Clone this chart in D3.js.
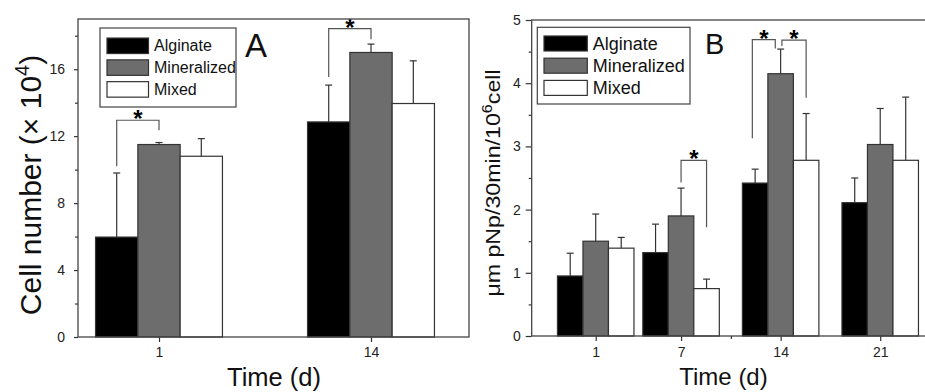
<!DOCTYPE html>
<html>
<head>
<meta charset="utf-8">
<script src="https://cdn.jsdelivr.net/npm/d3@7"></script>
<style>
	body { margin: 0; background: #fff; }
	svg { display: block; font-family: 'Liberation Sans', Arial, sans-serif; }
	.axis path.domain { display: none; }
	.axis line { stroke: #333; stroke-width: 1.2; }
	.axis text { fill: #222; font-size: 14px; }
</style>
</head>
<body>
<script>
(function(d3) {
	'use strict';

	/** data, panel A (cell number x 10^4) */
	var seriesNames = ['Alginate', 'Mineralized', 'Mixed'];
	var daysA = [1, 14];
	var alginateA = [5.97, 12.85];
	var alginateErrA = [3.83, 2.2];
	var mineralizedA = [11.5, 17.0];
	var mineralizedErrA = [0.12, 0.5];
	var mixedA = [10.8, 13.95];
	var mixedErrA = [1.05, 2.55];
	var yTicksA = [0, 4, 8, 12, 16];
	var yMinorA = [2, 6, 10, 14, 18];
	// significance brackets: day, series from/to, left foot, top, right foot
	var bracketsA = [
		{ day: 1, from: 0, to: 1, y1: 10.2, top: 12.95, y2: 12.36 },
		{ day: 14, from: 0, to: 1, y1: 15.54, top: 18.43, y2: 17.79 }
	];

	/** data, panel B (um pNp/30min/10^6 cell) */
	var daysB = [1, 7, 14, 21];
	var alginateB = [0.95, 1.32, 2.42, 2.11];
	var alginateErrB = [0.36, 0.45, 0.22, 0.39];
	var mineralizedB = [1.50, 1.90, 4.15, 3.03];
	var mineralizedErrB = [0.43, 0.44, 0.39, 0.57];
	var mixedB = [1.39, 0.75, 2.78, 2.78];
	var mixedErrB = [0.17, 0.15, 0.74, 1.00];
	var yTicksB = [0, 1, 2, 3, 4, 5];
	var yMinorB = [0.5, 1.5, 2.5, 3.5, 4.5];
	var xMinorB = [10.5];
	var bracketsB = [
		{ day: 7, from: 1, to: 2, y1: 2.43, top: 2.78, y2: 1.72 },
		{ day: 14, from: -0.11, to: 0.79, y1: 3.13, top: 4.69, y2: 4.55 },
		{ day: 14, from: 1.05, to: 2.0, y1: 4.59, top: 4.68, y2: 3.77 }
	];

	var fills = ['#000', '#6d6d6d', '#fff'];
	var lineColor = '#333';

	var svg = d3.select('body').append('svg').attr('width', 925).attr('height', 392);

	var drawBars = function(g, x, y, days, values, errors, barWidth) {
		values.forEach(function(series, i) {
			var rows = days.map(function(day, j) {
				return { cx: x(day) + (i - 1) * barWidth, v: series[j], e: errors[i][j] };
			});
			g.selectAll('rect.s' + i).data(rows).enter().append('rect')
				.attr('class', 's' + i)
				.attr('x', function(r) { return r.cx - barWidth / 2; })
				.attr('y', function(r) { return y(r.v); })
				.attr('width', barWidth)
				.attr('height', function(r) { return y(0) - y(r.v); })
				.attr('fill', fills[i]).attr('stroke', lineColor).attr('stroke-width', 1.2);
			var err = g.selectAll('g.e' + i).data(rows).enter().append('g').attr('class', 'e' + i)
				.attr('stroke', lineColor).attr('stroke-width', 1.2);
			err.append('line')
				.attr('x1', function(r) { return r.cx; }).attr('x2', function(r) { return r.cx; })
				.attr('y1', function(r) { return y(r.v); }).attr('y2', function(r) { return y(r.v + r.e); });
			err.append('line')
				.attr('x1', function(r) { return r.cx - 3.5; }).attr('x2', function(r) { return r.cx + 3.5; })
				.attr('y1', function(r) { return y(r.v + r.e); }).attr('y2', function(r) { return y(r.v + r.e); });
		});
	};

	var drawBrackets = function(g, x, y, brackets, barWidth) {
		var bx = function(b, pos) { return x(b.day) + (pos - 1) * barWidth; };
		g.selectAll('path.bracket').data(brackets).enter().append('path')
			.attr('class', 'bracket')
			.attr('fill', 'none').attr('stroke', '#555').attr('stroke-width', 1.2)
			.attr('d', function(b) {
				return 'M' + bx(b, b.from) + ',' + y(b.y1) + 'V' + y(b.top) +
					'H' + bx(b, b.to) + 'V' + y(b.y2);
			});
		g.selectAll('text.star').data(brackets).enter().append('text')
			.attr('class', 'star')
			.attr('x', function(b) { return (bx(b, b.from) + bx(b, b.to)) / 2; })
			.attr('y', function(b) { return y(b.top) + 7; })
			.attr('text-anchor', 'middle').attr('font-size', 24).attr('font-weight', 'bold')
			.text('*');
	};

	var drawLegend = function(g, box, fontSize) {
		g.append('rect').attr('x', box.x).attr('y', box.y).attr('width', box.w).attr('height', box.h)
			.attr('fill', '#fff').attr('stroke', '#444').attr('stroke-width', 1.2);
		var rows = g.selectAll('g.item').data(seriesNames).enter().append('g').attr('class', 'item')
			.attr('transform', function(d, i) { return 'translate(' + box.sx + ',' + (box.row0 + i * box.step) + ')'; });
		rows.append('rect').attr('x', 0).attr('y', -box.sh / 2).attr('width', box.sw).attr('height', box.sh)
			.attr('fill', function(d, i) { return fills[i]; })
			.attr('stroke', lineColor).attr('stroke-width', 1.2);
		rows.append('text').attr('x', box.sw + box.gap).attr('y', fontSize * 0.35)
			.attr('font-size', fontSize).attr('fill', '#111')
			.text(function(d) { return d; });
	};

	/** panel A */
	var frameA = { left: 78, right: 469, top: 19, bottom: 337 };
	var xA = d3.scalePoint().domain(daysA).range([159, 371]);
	var yA = d3.scaleLinear().domain([0, 19]).range([frameA.bottom, frameA.top]);
	var gA = svg.append('g');

	gA.append('g').attr('class', 'axis').attr('transform', 'translate(' + frameA.left + ',0)')
		.call(d3.axisLeft(yA).tickValues(yTicksA).tickSize(4).tickPadding(9).tickSizeOuter(0));
	gA.append('g').attr('class', 'axis').attr('transform', 'translate(' + frameA.left + ',0)')
		.call(d3.axisLeft(yA).tickValues(yMinorA).tickSize(3).tickFormat('').tickSizeOuter(0));
	gA.append('g').attr('class', 'axis').attr('transform', 'translate(0,' + frameA.bottom + ')')
		.call(d3.axisBottom(xA).tickSize(5).tickPadding(5).tickSizeOuter(0));

	drawBars(gA, xA, yA, daysA, [alginateA, mineralizedA, mixedA],
		[alginateErrA, mineralizedErrA, mixedErrA], 42.3);
	drawBrackets(gA, xA, yA, bracketsA, 42.3);

	gA.append('rect').attr('x', frameA.left).attr('y', frameA.top)
		.attr('width', frameA.right - frameA.left).attr('height', frameA.bottom - frameA.top)
		.attr('fill', 'none').attr('stroke', '#444').attr('stroke-width', 1.3);

	drawLegend(gA, { x: 100, y: 28, w: 136, h: 79, sx: 107, row0: 45.8, step: 21.8, sw: 41.5, sh: 15.5, gap: 5.5 }, 16);
	gA.append('text').attr('x', 245).attr('y', 57).attr('font-size', 33).attr('fill', '#111').text('A');

	var labelA = gA.append('text').attr('transform', 'translate(41,185) rotate(-90)')
		.attr('text-anchor', 'middle').attr('font-size', 30).attr('fill', '#111');
	labelA.append('tspan').text('Cell number (× 10');
	labelA.append('tspan').attr('font-size', 20).attr('dy', -12).text('4');
	labelA.append('tspan').attr('dy', 12).text(')');

	gA.append('text').attr('x', 274).attr('y', 386).attr('text-anchor', 'middle')
		.attr('font-size', 25.5).attr('fill', '#111').text('Time (d)');

	/** panel B */
	var frameB = { left: 531.7, right: 930, top: 20, bottom: 336 };
	var xB = d3.scaleLinear().domain([-3.5, 24.5]).range([frameB.left, frameB.right]);
	var yB = d3.scaleLinear().domain([0, 5]).range([frameB.bottom, frameB.top]);
	var gB = svg.append('g');

	gB.append('g').attr('class', 'axis').attr('transform', 'translate(' + frameB.left + ',0)')
		.call(d3.axisLeft(yB).tickValues(yTicksB).tickFormat(d3.format('d')).tickSize(6).tickPadding(5).tickSizeOuter(0));
	gB.append('g').attr('class', 'axis').attr('transform', 'translate(' + frameB.left + ',0)')
		.call(d3.axisLeft(yB).tickValues(yMinorB).tickSize(3).tickFormat('').tickSizeOuter(0));
	gB.append('g').attr('class', 'axis').attr('transform', 'translate(0,' + frameB.bottom + ')')
		.call(d3.axisBottom(xB).tickValues(daysB).tickFormat(d3.format('d')).tickSize(5).tickPadding(6).tickSizeOuter(0));
	gB.append('g').attr('class', 'axis').attr('transform', 'translate(0,' + frameB.bottom + ')')
		.call(d3.axisBottom(xB).tickValues(xMinorB).tickSize(3).tickFormat('').tickSizeOuter(0));

	drawBars(gB, xB, yB, daysB, [alginateB, mineralizedB, mixedB],
		[alginateErrB, mineralizedErrB, mixedErrB], 25.5);
	drawBrackets(gB, xB, yB, bracketsB, 25.5);

	gB.append('rect').attr('x', frameB.left).attr('y', frameB.top)
		.attr('width', frameB.right - frameB.left).attr('height', frameB.bottom - frameB.top)
		.attr('fill', 'none').attr('stroke', '#444').attr('stroke-width', 1.3);

	drawLegend(gB, { x: 537.3, y: 27.3, w: 152.7, h: 76.7, sx: 544, row0: 43.5, step: 22.2, sw: 43.3, sh: 15, gap: 5.4 }, 18);
	gB.append('text').attr('x', 705).attr('y', 54).attr('font-size', 29).attr('fill', '#111').text('B');

	var labelB = gB.append('text').attr('transform', 'translate(500,183) rotate(-90) scale(1.16,1)')
		.attr('text-anchor', 'middle').attr('font-size', 20).attr('fill', '#111');
	labelB.append('tspan').text('μm pNp/30min/10');
	labelB.append('tspan').attr('font-size', 14).attr('dy', -8).text('6');
	labelB.append('tspan').attr('dy', 8).text('cell');

	gB.append('text').attr('x', 723.5).attr('y', 385).attr('text-anchor', 'middle')
		.attr('font-size', 24).attr('fill', '#111').text('Time (d)');
})(d3);
</script>
</body>
</html>
